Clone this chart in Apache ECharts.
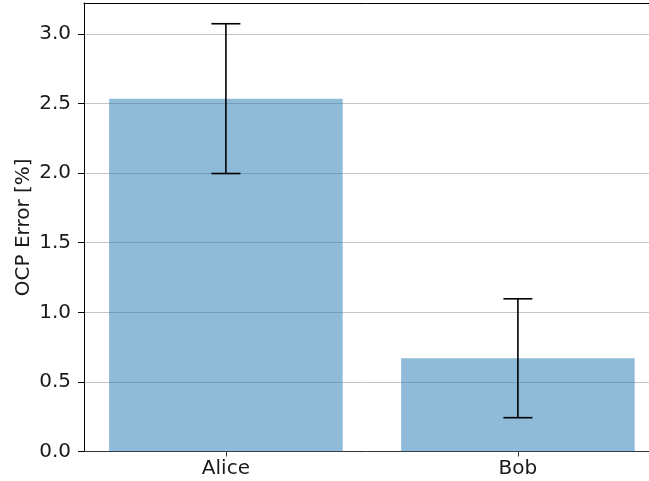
<!DOCTYPE html>
<html>
<head>
<meta charset="utf-8">
<script src="https://cdn.jsdelivr.net/npm/echarts@6/dist/echarts.min.js"></script>
<style>
html,body{margin:0;padding:0;background:#fff;}
#chart{width:649px;height:481px;}
</style>
</head>
<body>
<div id="chart"></div>
<script>
var categories = ['Alice', 'Bob'];
var means = [2.535, 0.670];
var errors = [0.538, 0.427];
var yTicks = [0, 0.5, 1.0, 1.5, 2.0, 2.5, 3.0];
var yMax = 3.222;
var xMin = -0.486;
var xMax = 1.449;
var barHalf = 0.4;

var FONT = 'DejaVu Sans';
var chart = echarts.init(document.getElementById('chart'), null, {renderer: 'canvas'});

var barData = categories.map(function (c, i) { return [i, means[i]]; });
var errData = categories.map(function (c, i) { return [i, means[i] - errors[i], means[i] + errors[i]]; });

chart.setOption({
  animation: false,
  backgroundColor: '#ffffff',
  grid: {left: 84, top: 3, bottom: 29.5, right: 0, containLabel: false},
  xAxis: [{
    type: 'value', min: xMin, max: xMax, position: 'bottom',
    axisLine: {show: true, onZero: false, lineStyle: {color: '#333', width: 1}},
    axisTick: {show: true, customValues: [0, 1], length: 5, lineStyle: {color: '#333'}},
    axisLabel: {show: true, customValues: [0, 1], margin: 7, fontFamily: FONT, fontSize: 20, color: '#1a1a1a',
      formatter: function (v) { return categories[Math.round(v)] || ''; }},
    splitLine: {show: false}
  }, {
    type: 'value', min: xMin, max: xMax, position: 'top',
    axisLine: {show: true, onZero: false, lineStyle: {color: '#000', width: 1}},
    axisTick: {show: false}, axisLabel: {show: false}, splitLine: {show: false}
  }],
  yAxis: {
    type: 'value', min: 0, max: yMax,
    name: 'OCP Error [%]', nameLocation: 'middle', nameGap: 50, nameMoveOverlap: false,
    nameTextStyle: {fontFamily: FONT, fontSize: 20, color: '#1a1a1a'},
    axisLine: {show: true, onZero: false, lineStyle: {color: '#000', width: 1}},
    axisTick: {show: true, customValues: yTicks, length: 6, lineStyle: {color: '#000'}},
    axisLabel: {show: true, customValues: yTicks, margin: 13, fontFamily: FONT, fontSize: 20, color: '#1a1a1a',
      formatter: function (v) { return v.toFixed(1); }},
    splitLine: {show: true, lineStyle: {color: '#c4c4c4', width: 1}}
  },
  series: [{
    type: 'custom',
    data: barData,
    z: 2,
    renderItem: function (params, api) {
      var x = api.value(0), y = api.value(1);
      var p1 = api.coord([x - barHalf, y]);
      var p2 = api.coord([x + barHalf, 0]);
      return {type: 'rect', shape: {x: p1[0], y: p1[1], width: p2[0] - p1[0], height: p2[1] - p1[1]},
        style: {fill: 'rgba(31,119,180,0.5)'}};
    }
  }, {
    type: 'custom',
    data: errData,
    z: 3,
    renderItem: function (params, api) {
      var x = api.value(0);
      var lo = api.coord([x, api.value(1)]);
      var hi = api.coord([x, api.value(2)]);
      var cap = 14.5;
      var st = {stroke: '#000', lineWidth: 1.6};
      return {type: 'group', children: [
        {type: 'line', shape: {x1: hi[0], y1: hi[1], x2: lo[0], y2: lo[1]}, style: st},
        {type: 'line', shape: {x1: hi[0] - cap, y1: hi[1], x2: hi[0] + cap, y2: hi[1]}, style: st},
        {type: 'line', shape: {x1: lo[0] - cap, y1: lo[1], x2: lo[0] + cap, y2: lo[1]}, style: st}
      ]};
    }
  }]
});
</script>
</body>
</html>
